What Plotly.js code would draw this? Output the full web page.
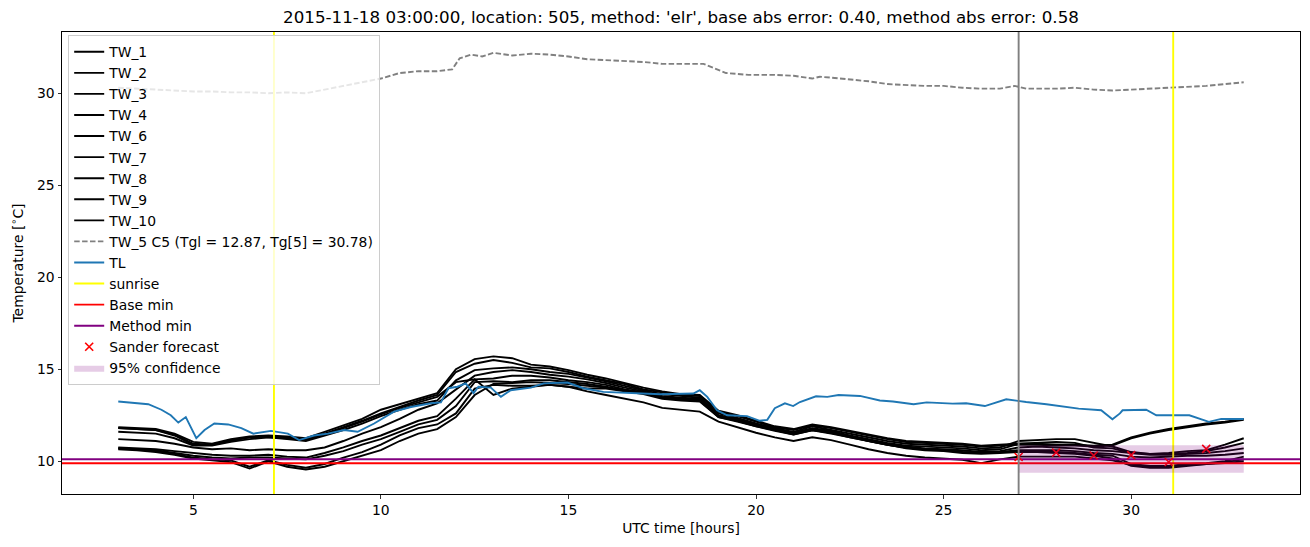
<!DOCTYPE html>
<html>
<head>
<meta charset="utf-8">
<script src="https://cdn.plot.ly/plotly-3.0.1.min.js"></script>
<style>html,body{margin:0;padding:0;background:#fff;}#chart{width:1310px;height:547px;}</style>
</head>
<body>
<div id="chart"></div>
<script>
// ---- data ----
const hours = [3.0,3.5,4.0,4.5,5.0,5.5,6.0,6.5,7.0,7.5,8.0,8.5,9.0,9.5,10.0,10.5,11.0,11.5,12.0,12.5,13.0,13.5,14.0,14.5,15.0,15.5,16.0,16.5,17.0,17.5,18.0,18.5,19.0,19.5,20.0,20.5,21.0,21.5,22.0,22.5,23.0,23.5,24.0,24.5,25.0,25.5,26.0,26.5,27.0,27.5,28.0,28.5,29.0,29.5,30.0,30.5,31.0,31.5,32.0,32.5,33.0];

const TW_1 = [11.85,11.8,11.75,11.5,11.05,10.95,11.2,11.35,11.4,11.35,11.25,11.6,11.95,12.3,12.8,13.1,13.4,13.7,15.0,15.55,15.7,15.6,15.25,15.15,14.95,14.7,14.5,14.25,14.0,13.8,13.65,13.6,12.75,12.5,12.2,11.9,11.75,12.0,11.85,11.65,11.45,11.25,11.1,11.05,11.0,10.95,10.85,10.9,10.95,10.95,10.9,10.9,10.85,10.9,11.3,11.55,11.75,11.9,12.05,12.15,12.3];
const TW_2 = [11.8,11.75,11.7,11.45,10.95,10.9,11.15,11.3,11.35,11.3,11.2,11.5,11.85,12.2,12.6,12.95,13.3,13.6,14.85,15.3,15.5,15.35,15.1,15.05,14.85,14.6,14.4,14.2,13.9,13.75,13.6,13.55,12.7,12.45,12.15,11.85,11.7,11.95,11.8,11.6,11.4,11.2,11.05,11.0,10.95,10.9,10.8,10.85,10.9,10.9,10.85,10.85,10.8,10.85,11.25,11.5,11.7,11.85,12.0,12.1,12.25];
const TW_3 = [11.6,11.55,11.5,11.25,10.85,10.85,11.05,11.2,11.3,11.2,11.1,11.4,11.7,12.05,12.45,12.8,13.1,13.3,14.4,14.95,15.05,15.1,15.0,14.85,14.75,14.55,14.35,14.1,13.85,13.65,13.55,13.45,12.6,12.35,12.05,11.8,11.6,11.9,11.7,11.5,11.3,11.1,10.95,10.9,10.85,10.8,10.7,10.75,11.1,11.15,11.2,11.2,11.0,10.8,10.5,10.4,10.45,10.55,10.6,10.9,11.25];
const TW_4 = [11.2,11.15,11.1,10.95,10.75,10.65,10.7,10.6,10.65,10.6,10.6,10.75,11.1,11.5,11.85,12.3,12.8,13.15,13.9,14.65,14.85,14.95,14.85,14.7,14.6,14.45,14.25,14.0,13.8,13.55,13.45,13.4,12.5,12.3,12.0,11.75,11.55,11.8,11.65,11.4,11.2,11.0,10.85,10.8,10.75,10.7,10.6,10.65,10.95,11.0,11.05,11.0,10.75,10.7,10.45,10.4,10.4,10.45,10.55,10.75,11.0];
const TW_6 = [10.75,10.7,10.65,10.55,10.45,10.35,10.3,10.3,10.35,10.25,10.2,10.45,10.75,11.1,11.4,11.8,12.2,12.45,13.4,14.45,14.5,14.65,14.65,14.55,14.4,14.3,14.15,13.9,13.75,13.5,13.4,13.35,12.45,12.25,11.95,11.7,11.5,11.75,11.6,11.35,11.15,10.95,10.8,10.7,10.65,10.6,10.5,10.55,10.75,10.8,10.75,10.7,10.6,10.55,10.45,10.35,10.35,10.4,10.45,10.55,10.7];
const TW_7 = [10.7,10.65,10.6,10.45,10.3,10.2,10.15,10.2,10.2,10.15,10.1,10.3,10.55,10.9,11.2,11.6,12.0,12.25,13.0,14.3,14.35,14.3,14.4,14.4,14.3,14.2,14.05,13.85,13.7,13.45,13.35,13.3,12.4,12.2,11.9,11.7,11.45,11.7,11.55,11.3,11.1,10.9,10.75,10.65,10.6,10.5,10.45,10.5,10.6,10.6,10.6,10.55,10.45,10.4,10.25,10.2,10.25,10.3,10.3,10.35,10.45];
const TW_8 = [10.7,10.65,10.55,10.4,10.2,10.1,10.05,9.7,10.05,9.8,9.65,9.85,10.2,10.5,10.9,11.4,11.8,12.0,12.6,13.95,14.15,14.1,14.1,14.15,14.05,13.95,13.95,13.8,13.65,13.4,13.3,13.25,12.4,12.15,11.9,11.65,11.45,11.68,11.5,11.3,11.1,10.9,10.7,10.6,10.55,10.45,10.4,10.45,10.5,10.55,10.5,10.45,10.35,10.3,9.85,9.75,9.75,9.85,9.9,10.0,10.25];
const TW_9 = [10.65,10.6,10.5,10.35,10.15,10.05,9.95,9.6,10.0,9.7,9.55,9.7,10.0,10.3,10.6,11.1,11.5,11.75,12.4,13.6,14.2,14.25,14.3,14.25,14.2,14.1,14.0,13.85,13.7,13.45,13.35,13.3,12.45,12.2,11.95,11.7,11.5,11.7,11.55,11.35,11.1,10.9,10.75,10.65,10.6,10.5,10.45,10.5,10.5,10.5,10.45,10.4,10.3,10.15,9.75,9.65,9.65,9.75,9.85,9.9,10.0];
const TW_10 = [11.8,11.75,11.7,11.4,10.9,10.9,11.1,11.3,11.3,11.25,11.15,11.45,11.8,12.15,12.55,12.9,13.2,13.5,14.3,14.45,13.6,13.95,14.05,14.15,14.05,13.8,13.6,13.4,13.2,12.9,12.8,12.7,12.15,11.85,11.55,11.3,11.1,11.3,11.15,10.9,10.65,10.45,10.3,10.2,10.15,10.08,9.9,10.1,10.25,10.25,10.25,10.25,10.15,10.05,9.8,9.7,9.7,9.8,9.85,9.95,10.1];

const tw5Hours = [3.0,3.5,4.0,4.5,5.0,5.5,6.0,6.5,7.0,7.5,8.0,8.5,9.0,9.5,10.0,10.5,11.0,11.5,11.9,12.1,12.4,12.7,13.0,13.5,14.0,14.5,15.0,15.5,16.0,16.5,17.0,17.5,18.0,18.6,19.2,19.8,20.5,21.0,21.5,21.7,22.0,22.5,23.0,23.5,24.0,24.5,25.0,25.5,26.0,26.5,26.9,27.2,28.0,28.5,29.0,29.5,30.0,30.5,31.0,31.5,32.0,32.5,33.0];
const TW_5 = [30.3,30.25,30.2,30.15,30.1,30.1,30.05,30.05,30.0,30.05,30.0,30.2,30.4,30.6,30.8,31.1,31.2,31.2,31.3,31.9,32.1,32.0,32.2,32.05,32.15,32.1,32.0,31.85,31.8,31.75,31.7,31.6,31.6,31.6,31.1,31.0,31.0,30.95,30.8,30.9,30.85,30.75,30.65,30.5,30.45,30.4,30.4,30.3,30.25,30.25,30.4,30.25,30.25,30.3,30.2,30.15,30.2,30.25,30.3,30.35,30.4,30.5,30.6];

const tlHours = [3.0,3.3,3.8,4.15,4.4,4.6,4.8,5.08,5.3,5.56,5.93,6.28,6.6,7.07,7.52,7.82,8.22,8.59,9.02,9.38,9.82,10.35,10.8,11.33,11.6,11.8,12.04,12.26,12.47,12.6,12.93,13.2,13.46,14.0,14.34,14.97,15.4,15.93,16.84,17.45,18.33,18.5,18.7,18.96,19.23,19.76,20.1,20.3,20.5,20.77,20.99,21.17,21.6,21.9,22.2,22.77,23.3,23.65,24.2,24.55,25.24,25.6,26.1,26.67,27.2,27.74,28.6,29.2,29.5,29.7,29.77,30.4,30.67,31.0,31.55,32.07,32.4,33.0];
const TL = [13.25,13.2,13.1,12.8,12.5,12.1,12.4,11.25,11.7,12.05,12.0,11.8,11.5,11.65,11.5,11.15,11.4,11.5,11.7,11.6,12.05,12.7,12.95,13.15,13.2,13.97,14.05,14.23,13.7,14.05,14.0,13.5,13.86,14.0,14.23,14.28,13.97,13.77,13.7,13.64,13.68,13.86,13.5,12.77,12.5,12.45,12.2,12.25,12.88,13.15,13.0,13.22,13.53,13.5,13.6,13.55,13.3,13.25,13.1,13.2,13.13,13.15,13.0,13.37,13.22,13.1,12.86,12.77,12.28,12.6,12.77,12.8,12.5,12.5,12.5,12.14,12.3,12.3];

const sunriseHours = [7.15, 31.12];
const forecastHour = 27.0;
const baseMin = 9.89;
const methodMin = 10.11;
const sanderHours = [27, 28, 29, 30, 31, 32];
const sanderValues = [10.23, 10.47, 10.31, 10.33, 9.96, 10.67];
const confHours = [27, 33];
const confLow = 9.37;
const confHigh = 10.87;

const twNames = ['TW_1','TW_2','TW_3','TW_4','TW_6','TW_7','TW_8','TW_9','TW_10'];
const twSeries = [TW_1,TW_2,TW_3,TW_4,TW_6,TW_7,TW_8,TW_9,TW_10];

const xRange = [1.5, 34.5];
const yRange = [8.22, 33.33];
const titleText = "2015-11-18 03:00:00, location: 505, method: 'elr', base abs error: 0.40, method abs error: 0.58";

// ---- traces ----
const LW = 1.9;
const traces = [];
twSeries.forEach((s, i) => {
  traces.push({x: hours, y: s, type: 'scatter', mode: 'lines', name: twNames[i],
    line: {color: '#000000', width: LW}});
});
traces.push({x: tw5Hours, y: TW_5, type: 'scatter', mode: 'lines',
  name: 'TW_5 C5 (Tgl = 12.87, Tg[5] = 30.78)',
  line: {color: '#808080', width: LW, dash: '5.5px,2.4px'}});
traces.push({x: tlHours, y: TL, type: 'scatter', mode: 'lines', name: 'TL',
  line: {color: '#1f77b4', width: LW}});
const sx = [], sy = [];
sunriseHours.forEach(h => { sx.push(h, h, null); sy.push(yRange[0], yRange[1], null); });
traces.push({x: sx, y: sy, type: 'scatter', mode: 'lines', name: 'sunrise',
  line: {color: '#ffff00', width: LW}});
traces.push({x: xRange, y: [baseMin, baseMin], type: 'scatter', mode: 'lines', name: 'Base min',
  line: {color: '#ff0000', width: LW}});
traces.push({x: xRange, y: [methodMin, methodMin], type: 'scatter', mode: 'lines', name: 'Method min',
  line: {color: '#800080', width: LW}});
traces.push({x: sanderHours, y: sanderValues, type: 'scatter', mode: 'markers', name: 'Sander forecast',
  marker: {symbol: 'x-thin', size: 8, color: '#ff0000', line: {color: '#ff0000', width: 1.6}}});
traces.push({x: [confHours[0], confHours[1], confHours[1], confHours[0], confHours[0]],
  y: [confLow, confLow, confHigh, confHigh, confLow],
  type: 'scatter', mode: 'lines', fill: 'toself', name: '95% confidence',
  fillcolor: 'rgba(128,0,128,0.2)', line: {width: 0, color: 'rgba(0,0,0,0)'}});
traces.push({x: [forecastHour, forecastHour], y: yRange, type: 'scatter', mode: 'lines',
  showlegend: false, line: {color: '#808080', width: LW}});

const font = 'DejaVu Sans, sans-serif';
const layout = {
  width: 1310, height: 547,
  margin: {l: 62, r: 10, t: 32, b: 53},
  paper_bgcolor: '#ffffff', plot_bgcolor: '#ffffff',
  font: {family: font, size: 13.9, color: '#000000'},
  title: {text: titleText, x: 0.5, xref: 'paper', xanchor: 'center',
    y: 1 - 17/547, yref: 'container', yanchor: 'middle',
    font: {family: font, size: 16.7, color: '#000000'}},
  xaxis: {range: xRange, tickvals: [5,10,15,20,25,30], ticktext: ['5','10','15','20','25','30'],
    showgrid: false, zeroline: false, showline: true, mirror: true, linecolor: '#000', linewidth: 1,
    ticks: 'outside', ticklen: 3.5, tickwidth: 0.8, tickcolor: '#000',
    tickfont: {family: font, size: 13.9},
    title: {text: 'UTC time [hours]', standoff: 6, font: {family: font, size: 13.9}}},
  yaxis: {range: yRange, tickvals: [10,15,20,25,30], ticktext: ['10','15','20','25','30'],
    showgrid: false, zeroline: false, showline: true, mirror: true, linecolor: '#000', linewidth: 1,
    ticks: 'outside', ticklen: 3.5, tickwidth: 0.8, tickcolor: '#000',
    tickfont: {family: font, size: 13.9},
    title: {text: 'Temperature [<sup>∘</sup>C]', standoff: 10, font: {family: font, size: 13.9}}},
  showlegend: true,
  legend: {x: 0.005, y: 0.993, xanchor: 'left', yanchor: 'top',
    bgcolor: 'rgba(255,255,255,0.8)', bordercolor: '#cccccc', borderwidth: 1,
    font: {family: font, size: 13.9, color: '#000'}, tracegroupgap: 0, traceorder: 'normal'}
};

Plotly.newPlot('chart', traces, layout, {staticPlot: true, displayModeBar: false});
</script>
</body>
</html>
